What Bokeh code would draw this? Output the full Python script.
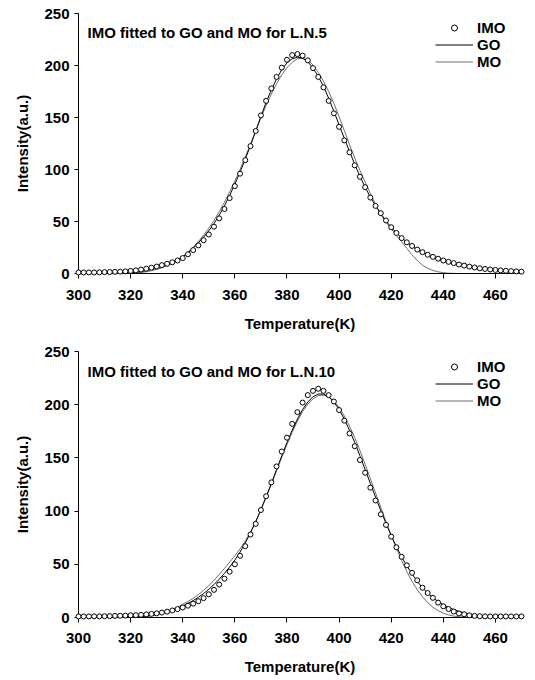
from bokeh.plotting import figure
from bokeh.layouts import column
from bokeh.models import Range1d, FixedTicker, Legend, LegendItem, Label, ColumnDataSource
from bokeh.embed import file_html
from bokeh.resources import INLINE

# ---------------- data ----------------
temperature = list(range(300, 471, 2))

x_ticks = [300, 320, 340, 360, 380, 400, 420, 440, 460]
y_ticks = [0, 50, 100, 150, 200, 250]

titles = ["IMO fitted to GO and MO for L.N.5", "IMO fitted to GO and MO for L.N.10"]
series_names = ["IMO", "GO", "MO"]

# L.N.5
imo_5 = [1.0, 1.0, 1.0, 1.0, 1.1, 1.3, 1.4, 1.6, 1.8, 2.1,
         2.5, 3.0, 3.8, 4.6, 5.6, 6.7, 8.0, 9.3, 10.8, 12.5,
         14.8, 18.5, 22.5, 27.0, 32.0, 37.5, 45.0, 53.0, 62.0, 72.5,
         84.0, 96.0, 109.0, 122.5, 137.0, 152.0, 166.0, 178.0, 189.0, 198.0,
         205.5, 210.0, 211.0, 209.5, 205.0, 197.5, 189.0, 179.0, 166.0, 154.0,
         141.0, 128.0, 116.5, 104.0, 93.0, 83.0, 73.0, 65.0, 58.0, 51.0,
         44.5, 39.0, 34.0, 30.0, 26.5, 23.0, 20.5, 18.0, 16.0, 14.2,
         12.5, 11.2, 10.0, 8.6, 7.6, 6.6, 5.8, 5.0, 4.4, 3.9,
         3.4, 3.0, 2.6, 2.3, 2.0, 1.8]
go_5 = [0.0, 0.0, 0.0, 0.0, 0.0, 0.0, 0.0, 0.0, 0.2, 0.4,
        0.7, 1.2, 1.9, 2.8, 3.9, 5.2, 6.8, 8.6, 10.6, 13.0,
        16.0, 19.8, 24.3, 29.5, 35.0, 41.0, 48.0, 56.0, 65.0, 75.0,
        86.0, 97.5, 110.0, 123.0, 137.0, 151.0, 164.5, 176.5, 187.0, 196.0,
        202.5, 206.5, 208.0, 207.0, 203.5, 197.5, 189.5, 180.0, 168.5, 156.0,
        143.0, 130.0, 117.5, 105.0, 93.5, 83.0, 73.5, 65.0, 57.5, 50.5,
        44.5, 39.0, 34.3, 30.0, 26.3, 23.0, 20.2, 17.7, 15.5, 13.6,
        12.0, 10.5, 9.3, 8.2, 7.2, 6.4, 5.7, 5.0, 4.5, 4.0,
        3.5, 3.1, 2.8, 2.5, 2.2, 2.0]
mo_5 = [0.0, 0.0, 0.0, 0.0, 0.0, 0.0, 0.0, 0.0, 0.0, 0.0,
        0.2, 0.5, 1.0, 1.7, 2.7, 4.0, 5.6, 7.6, 10.0, 13.0,
        16.5, 20.6, 25.3, 30.7, 36.8, 43.5, 51.0, 59.5, 68.5, 78.5,
        89.0, 100.0, 112.0, 124.5, 137.0, 149.5, 161.5, 172.5, 182.5, 191.0,
        198.0, 203.0, 206.5, 207.0, 205.0, 200.5, 193.5, 185.0, 175.0, 163.5,
        151.0, 137.5, 124.0, 111.0, 99.0, 88.0, 77.0, 66.5, 57.0, 49.5,
        43.0, 36.5, 30.5, 24.0, 18.0, 12.5, 8.0, 5.0, 3.0, 1.6,
        0.8, 0.3, 0.1, 0.0, 0.0, 0.0, 0.0, 0.0, 0.0, 0.0,
        0.0, 0.0, 0.0, 0.0, 0.0, 0.0]

# L.N.10
imo_10 = [1.0, 1.0, 1.0, 1.1, 1.1, 1.2, 1.3, 1.5, 1.6, 1.8,
          2.0, 2.2, 2.5, 2.9, 3.4, 3.9, 4.6, 5.5, 6.6, 7.9,
          9.4, 11.1, 13.0, 15.3, 18.2, 21.8, 26.0, 31.0, 36.5, 43.0,
          50.0, 58.0, 67.0, 78.0, 88.0, 101.0, 114.0, 127.0, 142.0, 156.0,
          169.0, 182.0, 193.0, 202.0, 209.0, 213.0, 215.0, 213.0, 209.0, 203.0,
          195.0, 185.0, 173.0, 161.0, 148.0, 136.0, 122.0, 110.0, 97.0, 87.0,
          76.0, 66.0, 57.0, 49.0, 42.0, 35.0, 28.0, 23.0, 18.5, 14.0,
          10.5, 8.0, 5.6, 3.8, 3.0, 2.0, 1.5, 1.2, 1.1, 1.0,
          1.0, 1.0, 1.0, 1.0, 1.0, 1.0]
go_10 = [0.0, 0.0, 0.0, 0.0, 0.0, 0.0, 0.0, 0.0, 0.0, 0.0,
         0.2, 0.4, 0.8, 1.3, 2.0, 2.9, 4.0, 5.3, 6.9, 8.7,
         10.8, 13.2, 15.9, 19.0, 22.5, 26.5, 31.0, 36.0, 41.5, 47.5,
         54.0, 61.5, 70.0, 79.5, 90.0, 101.5, 113.5, 126.0, 139.0, 152.0,
         164.5, 176.0, 186.5, 195.5, 202.5, 207.5, 210.0, 210.0, 207.5, 202.5,
         195.5, 186.5, 176.0, 164.5, 152.0, 139.0, 126.0, 113.0, 100.5, 88.5,
         77.0, 66.5, 57.0, 48.5, 41.0, 34.0, 28.0, 23.0, 18.5, 15.0,
         12.0, 9.5, 7.5, 5.8, 4.4, 3.2, 2.3, 1.6, 1.1, 0.8,
         0.5, 0.4, 0.3, 0.2, 0.1, 0.1]
mo_10 = [0.0, 0.0, 0.0, 0.0, 0.0, 0.0, 0.0, 0.0, 0.0, 0.0,
         0.0, 0.0, 0.3, 0.8, 1.6, 2.7, 4.0, 5.6, 7.4, 9.5,
         12.5, 15.0, 18.0, 21.5, 25.5, 30.0, 35.0, 40.5, 46.0, 52.0,
         58.0, 64.5, 72.0, 80.5, 90.0, 101.0, 113.0, 125.0, 138.0, 150.5,
         162.5, 174.0, 184.5, 193.5, 200.5, 205.5, 208.5, 209.0, 207.5, 203.5,
         197.5, 189.5, 180.0, 169.0, 157.0, 144.0, 130.5, 117.0, 103.5, 90.0,
         77.0, 65.0, 53.5, 43.0, 34.0, 26.0, 19.5, 14.0, 9.7, 6.5,
         4.0, 2.4, 1.3, 0.6, 0.3, 0.1, 0.0, 0.0, 0.0, 0.0,
         0.0, 0.0, 0.0, 0.0, 0.0, 0.0]

FONT = "Liberation Sans"
FS = "15px"


def make_panel(title, imo, go, mo, border_top, frame_h, border_bottom,
               lab_std, axlab_std, legend_bottom, title_y):
    src = ColumnDataSource(dict(t=temperature, imo=imo, go=go, mo=mo))
    p = figure(output_backend="svg", toolbar_location=None,
               frame_width=443, frame_height=frame_h,
               min_border_left=78, min_border_right=8,
               min_border_top=border_top, min_border_bottom=border_bottom,
               x_range=Range1d(300, 470), y_range=Range1d(0, 250))
    p.outline_line_color = None
    p.xgrid.visible = False
    p.ygrid.visible = False
    p.background_fill_color = "white"
    p.border_fill_color = "white"

    r_mo = p.line("t", "mo", source=src, line_color="#6e6e6e", line_width=1)
    r_go = p.line("t", "go", source=src, line_color="black", line_width=1)
    r_imo = p.scatter("t", "imo", source=src, marker="circle", size=5,
                      line_color="black", line_width=1, fill_color="white")
    r_imo.level = "overlay"

    for ax in (p.xaxis[0], p.yaxis[0]):
        ax.axis_line_color = "black"
        ax.axis_line_width = 1
        ax.major_tick_line_color = "black"
        ax.major_tick_in = 0
        ax.minor_tick_line_color = None
        ax.major_label_text_font = FONT
        ax.major_label_text_font_style = "bold"
        ax.major_label_text_font_size = FS
        ax.major_label_text_color = "black"
        ax.axis_label_text_font = FONT
        ax.axis_label_text_font_style = "bold"
        ax.axis_label_text_font_size = FS
        ax.axis_label_text_color = "black"

    p.xaxis[0].ticker = FixedTicker(ticks=x_ticks)
    p.yaxis[0].ticker = FixedTicker(ticks=y_ticks)
    p.xaxis[0].axis_label = "Temperature(K)"
    p.yaxis[0].axis_label = "Intensity(a.u.)"
    p.xaxis[0].major_tick_out = 5
    p.yaxis[0].major_tick_out = 4
    p.xaxis[0].major_label_standoff = lab_std
    p.xaxis[0].axis_label_standoff = axlab_std
    p.yaxis[0].major_label_standoff = 5
    p.yaxis[0].axis_label_standoff = 10

    legend = Legend(items=[LegendItem(label=series_names[0], renderers=[r_imo]),
                           LegendItem(label=series_names[1], renderers=[r_go]),
                           LegendItem(label=series_names[2], renderers=[r_mo])],
                    location=(357, legend_bottom),
                    padding=0, margin=0, spacing=-2,
                    glyph_width=38, glyph_height=15, label_height=15,
                    label_standoff=4,
                    label_text_font=FONT, label_text_font_style="bold",
                    label_text_font_size=FS, label_text_color="black",
                    background_fill_alpha=0, border_line_alpha=0)
    p.add_layout(legend)

    lab = Label(x=303.5, y=title_y, text=title, text_font=FONT,
                text_font_style="bold", text_font_size=FS,
                text_color="black", text_baseline="middle", text_align="left")
    p.add_layout(lab)
    return p


p1 = make_panel(titles[0], imo_5, go_5, mo_5, border_top=13, frame_h=260,
                border_bottom=62, lab_std=11, axlab_std=12,
                legend_bottom=203, title_y=231.5)
p2 = make_panel(titles[1], imo_10, go_10, mo_10, border_top=16, frame_h=266,
                border_bottom=61, lab_std=10, axlab_std=12,
                legend_bottom=208, title_y=231)

layout = column(p1, p2, spacing=0)

open("out.html", "w").write(file_html(layout, INLINE))
